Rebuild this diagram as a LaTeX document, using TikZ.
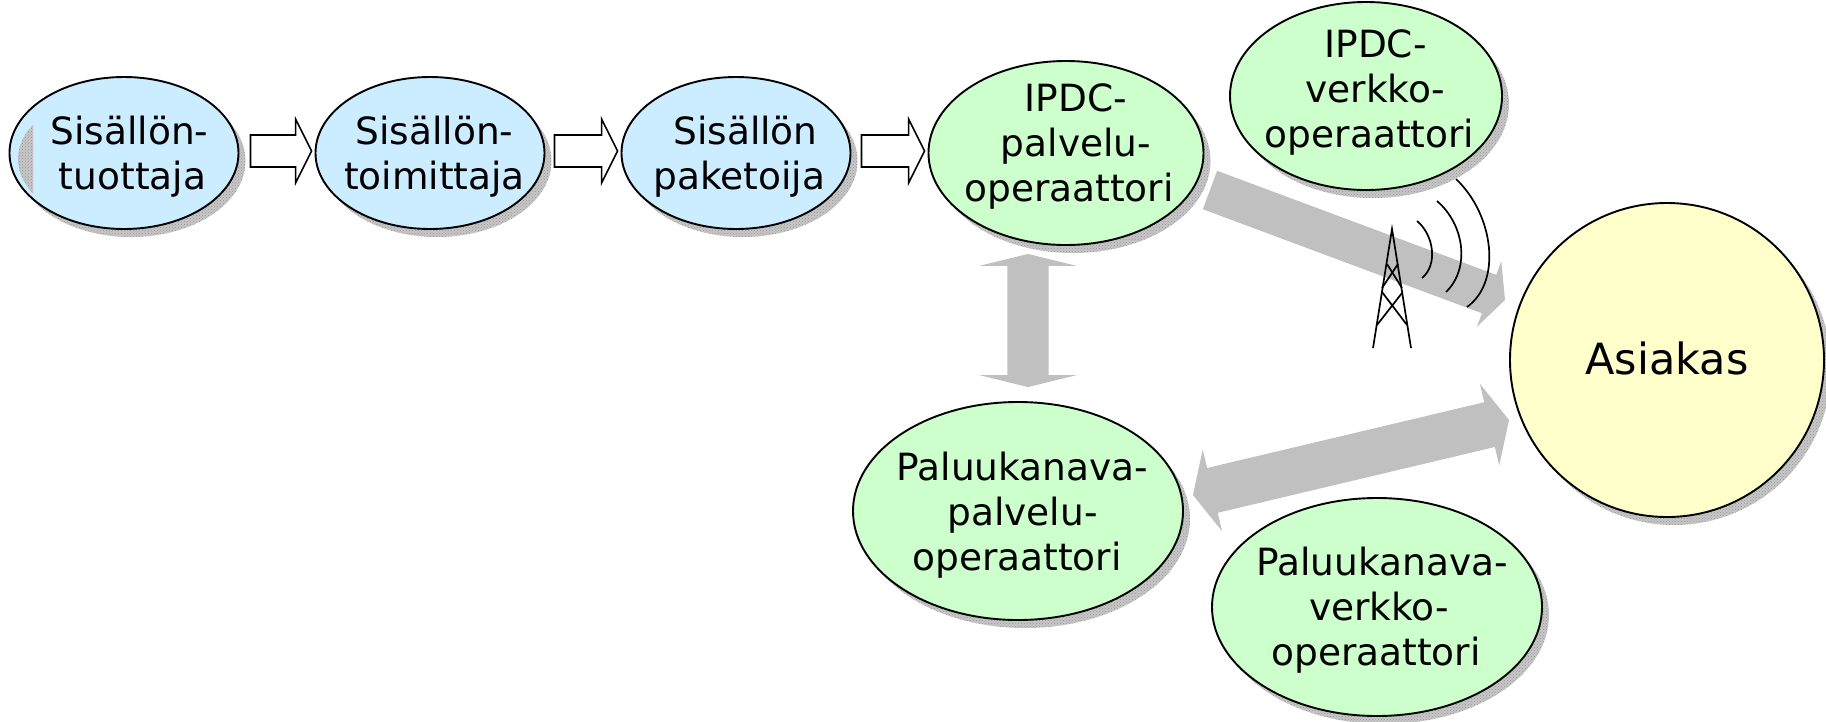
\documentclass[tikz,border=0pt]{standalone}
\usepackage{fontspec}
\setmainfont{DejaVu Sans}
\usetikzlibrary{calc}
\usetikzlibrary{patterns}
\usetikzlibrary{shapes.geometric}
\usetikzlibrary{shadows}
\definecolor{sisblue}{HTML}{CCECFF}
\definecolor{opgreen}{HTML}{CCFFCC}
\definecolor{asyellow}{HTML}{FFFFCC}
\definecolor{bargray}{HTML}{C0C0C0}
\tikzset{
  stipple/.style={pattern=crosshatch dots, pattern color=black!42},
  party/.style={ellipse, draw=black, line width=1.9pt, inner sep=0pt,
    general shadow={shadow xshift=7pt, shadow yshift=-8pt, fill=black!22, postaction={stipple}}},
  partytext/.style={align=center, inner sep=0pt, text=black, font=\fontsize{37.5}{45}\selectfont},
  bluebox/.style={party, fill=sisblue, minimum width=229pt, minimum height=152pt},
  greenbox/.style={party, fill=opgreen, minimum width=#1},
  hollowbar/.style={draw=black, line width=1.6pt, fill=white},
  graybar/.style={fill=bargray},
  towerline/.style={draw=black, line width=1.7pt}
}
% tail, tip, half shaft, half head, head length
\newcommand{\onebar}[6][]{
  \coordinate (hh) at ($(#3)!#6!(#2)$);
  \path[#1] ($(#2)!#4!90:(#3)$) -- ($(hh)!#4!-90:(#2)$) -- ($(hh)!#5!-90:(#2)$) -- (#3)
    -- ($(hh)!#5!90:(#2)$) -- ($(hh)!#4!90:(#2)$) -- ($(#2)!#4!-90:(#3)$) -- cycle;
}
\newcommand{\twobar}[6][]{
  \coordinate (hh) at ($(#3)!#6!(#2)$);
  \coordinate (tt) at ($(#2)!#6!(#3)$);
  \path[#1] (#2) -- ($(tt)!#5!90:(#3)$) -- ($(tt)!#4!90:(#3)$) -- ($(hh)!#4!-90:(#2)$) -- ($(hh)!#5!-90:(#2)$) -- (#3)
    -- ($(hh)!#5!90:(#2)$) -- ($(hh)!#4!90:(#2)$) -- ($(tt)!#4!-90:(#3)$) -- ($(tt)!#5!-90:(#3)$) -- cycle;
}
\begin{document}
\begin{tikzpicture}[x=1pt, y=-1pt]
\useasboundingbox (0,0) rectangle (1826,721);
\node[bluebox] (tuottaja) at (124,153) {};
\node[bluebox] (toimittaja) at (430,153) {};
\node[bluebox] (paketoija) at (736,153) {};
\node[greenbox=275pt, minimum height=184pt] (ipdcpalvelu) at (1066,153) {};
\node[greenbox=272pt, minimum height=188pt] (ipdcverkko) at (1366,96) {};
\node[greenbox=330pt, minimum height=218pt] (paluupalvelu) at (1018,511) {};
\node[greenbox=330pt, minimum height=218pt] (paluuverkko) at (1377,607) {};
\node[party, fill=asyellow, minimum width=314pt, minimum height=314pt] (asiakas) at (1667,360) {};
% left patch in the first ellipse
\begin{scope}
\clip (0,100) rectangle (33,220);
\clip (tuottaja.center) ellipse [x radius=113pt, y radius=75pt];
\fill[black!22] (134,159) ellipse [x radius=116pt, y radius=70pt];
\fill[stipple] (134,159) ellipse [x radius=116pt, y radius=70pt];
\end{scope}
% texts
\node[partytext] (tuottajatext) at ($(tuottaja.center)+(5.5,4)$) {Sisällön-\\\hspace*{6pt}tuottaja};
\node[partytext] (toimittajatext) at ($(toimittaja.center)+(4.5,4)$) {Sisällön-\\toimittaja};
\node[partytext] (paketoijatext) at ($(paketoija.center)+(3.5,4)$) {\hspace*{12pt}Sisällön\\paketoija};
\node[partytext] (ipdcpalvelutext) at ($(ipdcpalvelu.center)+(3,-7)$) {\hspace*{14pt}IPDC-\\\hspace*{14pt}palvelu-\\operaattori};
\node[partytext] (ipdcverkkotext) at ($(ipdcverkko.center)+(3.5,-4)$) {\hspace*{12pt}IPDC-\\\hspace*{12pt}verkko-\\operaattori};
\node[partytext] (paluupalvelutext) at ($(paluupalvelu.center)+(-1,4)$) {\hspace*{11pt}Paluukanava-\\\hspace*{11pt}palvelu-\\operaattori};
\node[partytext] (paluuverkkotext) at ($(paluuverkko.center)+(-1,3)$) {\hspace*{12pt}Paluukanava-\\\hspace*{6pt}verkko-\\operaattori};
\node[partytext, font=\fontsize{43}{50}\selectfont] (asiakastext) at ($(asiakas.center)+(0,-2)$) {Asiakas};
% hollow arrows
\foreach \a/\b/\d in {tuottaja/toimittaja/11, toimittaja/paketoija/9, paketoija/ipdcpalvelu/10} {
 \coordinate (arrowtail) at ($(\a.east)+(\d,-2)$);
 \coordinate (arrowtip) at ($(\b.west)+(-3,-2)$);
 \onebar[hollowbar]{arrowtail}{arrowtip}{16pt}{32pt}{16pt}
}
% gray arrows
\coordinate (bcastout) at ($(ipdcpalvelu.center)+(144,37)$);
\coordinate (bcastin) at ($(asiakas.center)+(-162,-60)$);
\onebar[graybar]{bcastout}{bcastin}{20.5pt}{35pt}{17pt}
\coordinate (linkup) at ($(ipdcpalvelu.south)+(-38,8)$);
\coordinate (linkdown) at ($(paluupalvelu.north)+(10,-14)$);
\twobar[graybar]{linkup}{linkdown}{20.7pt}{49pt}{12pt}
\coordinate (backin) at ($(asiakas.center)+(-158,60)$);
\coordinate (backout) at ($(paluupalvelu.east)+(9,-16)$);
\twobar[graybar]{backin}{backout}{23pt}{42pt}{20pt}
% tower and waves
\draw[towerline] (1373,348) -- (1392,229) -- (1411,348);
\foreach \xa/\ya/\xb/\yb in {1387/264/1402/288, 1398/264/1382/288, 1382/292/1407/325, 1402/293/1377/325} {
 \draw[towerline] (\xa,\ya) -- (\xb,\yb);
}
\draw[towerline] (1417,221) .. controls (1434,235) and (1438,265) .. (1422,278);
\draw[towerline] (1437,201) .. controls (1465,225) and (1470,269) .. (1446,292);
\draw[towerline] (1456,179) .. controls (1494,215) and (1502,282) .. (1467,307);
\end{tikzpicture}
\end{document}
